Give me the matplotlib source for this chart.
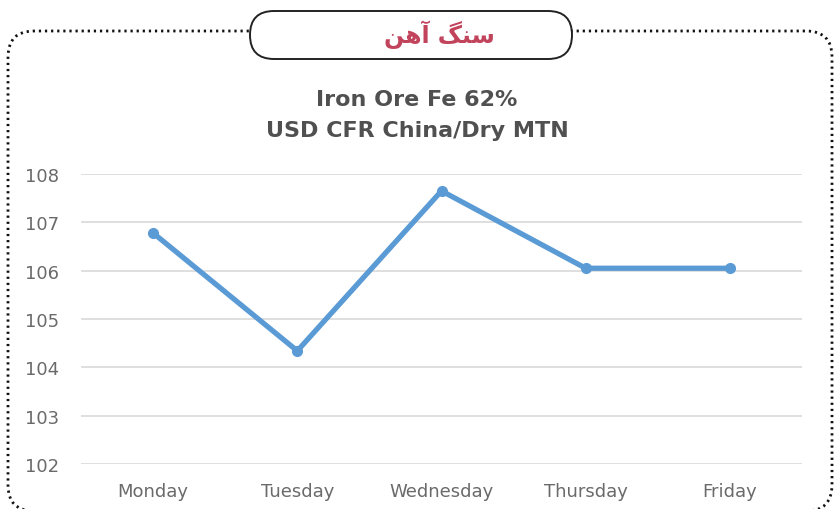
import matplotlib
matplotlib.use("Agg")
import matplotlib.pyplot as plt
from matplotlib.patches import FancyBboxPatch

days = ["Monday", "Tuesday", "Wednesday", "Thursday", "Friday"]
prices = [106.78, 104.34, 107.65, 106.05, 106.05]
yticks = [102, 103, 104, 105, 106, 107, 108]
title_lines = ["Iron Ore Fe 62%", "USD CFR China/Dry MTN"]
# "سنگ آهن" in presentation forms, visual order
header = "\uFEE6\uFEEB\uFE81 \uFB93\uFEE8\uFEB3"

W, H = 840, 510
fig = plt.figure(figsize=(W / 100, H / 100), dpi=100)
fig.patch.set_facecolor("white")

def fx(px):
    return px / W

def fy(py):
    return 1 - py / H

# dotted rounded frame (radius in x-fraction units; mutation_aspect scales y)
frame = FancyBboxPatch((fx(8), fy(512)), fx(832) - fx(8), fy(32) - fy(512),
                       boxstyle="round,pad=0,rounding_size=%f" % (26 / W),
                       transform=fig.transFigure, fill=False,
                       linestyle=(0, (0.8, 1.4)), linewidth=2.0, edgecolor="#111111",
                       mutation_aspect=W / H)
fig.add_artist(frame)

# header pill
pill = FancyBboxPatch((fx(250), fy(60)), fx(572) - fx(250), fy(12) - fy(60),
                      boxstyle="round,pad=0,rounding_size=%f" % (24 / W),
                      transform=fig.transFigure, facecolor="white",
                      edgecolor="#222222", linewidth=1.4, mutation_aspect=W / H,
                      zorder=3)
fig.add_artist(pill)
fig.text(fx(439), fy(35), header, ha="center", va="center", fontsize=17,
         fontweight="bold", color="#C2445C", family=["DejaVu Sans"], zorder=4)

# chart
ax = fig.add_axes([fx(81), fy(465), fx(802) - fx(81), fy(175) - fy(465)])
x = list(range(len(days)))
ax.plot(x, prices, color="#5B9BD5", linewidth=3.8, marker="o", markersize=7,
        solid_capstyle="round", solid_joinstyle="round", zorder=3)
ax.set_xlim(-0.5, len(days) - 0.5)
ax.set_ylim(102, 108)
ax.set_yticks(yticks)
ax.set_yticklabels([str(v) for v in yticks])
ax.set_xticks(x)
ax.set_xticklabels(days)
ax.grid(axis="y", color="#D9D9D9", linewidth=1.2)
ax.set_axisbelow(True)
for s in ax.spines.values():
    s.set_visible(False)
ax.tick_params(axis="both", length=0, labelsize=13, colors="#6A6A6A")
ax.tick_params(axis="y", pad=16)
ax.tick_params(axis="x", pad=13)

fig.text(fx(417), fy(100), title_lines[0], ha="center", va="center",
         fontsize=16, fontweight="bold", color="#505050")
fig.text(fx(417), fy(131), title_lines[1], ha="center", va="center",
         fontsize=16, fontweight="bold", color="#505050")

fig.savefig("out.png", dpi=100, facecolor="white")
